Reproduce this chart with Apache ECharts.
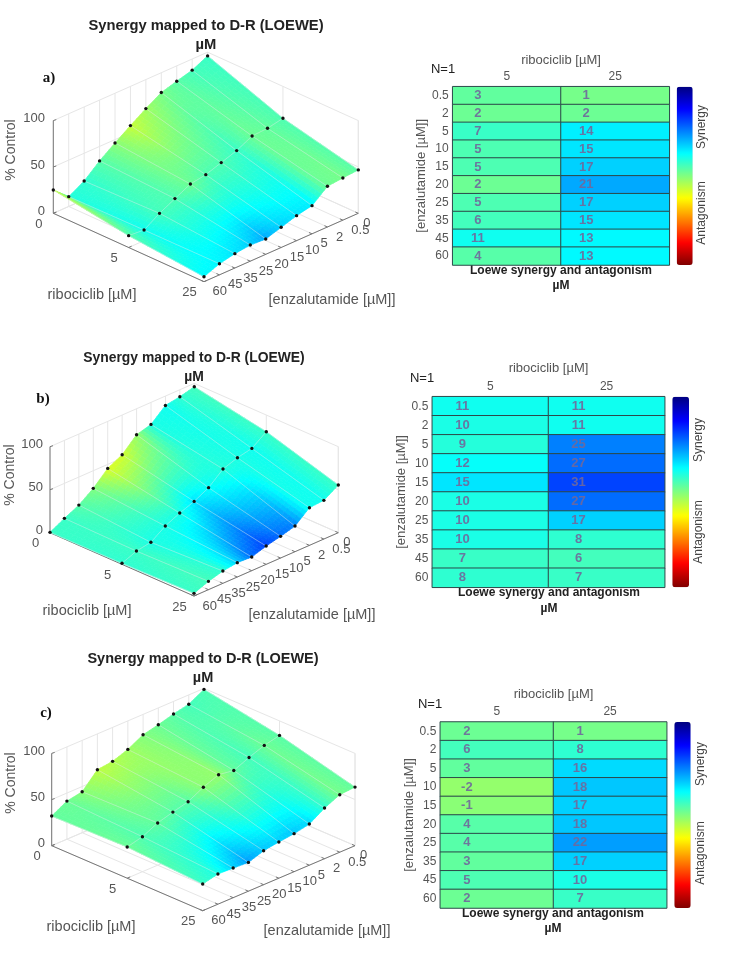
<!DOCTYPE html>
<html><head><meta charset="utf-8">
<style>html,body{margin:0;padding:0;background:#fff}#c{width:735px;height:959px}</style>
<script src="https://cdn.jsdelivr.net/npm/echarts@6/dist/echarts.min.js"></script>
</head><body><div id="c"></div>
<script>
// ---- categories and tick labels
const ribTicks = ['0','5','25'];
const enzTicks = ['0','0.5','2','5','10','15','20','25','35','45','60'];
const heatRib = ['5','25'];
const heatEnz = ['0.5','2','5','10','15','20','25','35','45','60'];
const zTicks = [0,50,100];
// ---- Loewe synergy tables
const heatA5 = [3,2,7,5,5,2,5,6,11,4];
const heatA25 = [1,2,14,15,17,21,17,15,13,13];
const heatB5 = [11,10,9,12,15,10,10,10,7,8];
const heatB25 = [11,11,25,27,31,27,17,8,6,7];
const heatC5 = [2,6,3,-2,-1,4,4,3,5,2];
const heatC25 = [1,8,16,18,17,18,22,17,10,7];
// ---- % control surfaces (one row per ribociclib dose, one value per enzalutamide dose)
const surfA0 = [96,88,83.5,78.6,68.7,57.7,46.4,34.4,20.1,10.6,25.2];
const surfA5 = [65.6,62.2,61.3,52.9,47.3,41.7,39,30.6,22.1,11.5,12.8];
const surfA25 = [46.8,45.5,43.9,30.4,27,21.8,16.5,17.4,15.5,12,5.4];
const surfB0 = [96.1,91.9,89.1,74.4,69.8,53.9,45.3,29.5,17.4,9.3,0.4];
const surfB5 = [80.6,68.6,65.1,59.3,45,36.4,30.2,22.5,10.9,8.1,1.2];
const surfB25 = [55.4,45,43.8,29.8,25.2,21.3,15.9,16.7,14.3,9.7,3.1];
const surfC0 = [98.9,89.9,86.3,81.8,78,69.1,63.2,61.2,44.4,41.3,32.1];
const surfC5 = [84.3,80.5,74.5,67.4,69.9,63.4,54.7,50.5,45.8,37.9,33.8];
const surfC25 = [63.5,62.3,54.9,44.6,41.2,39.2,36.8,31.2,32.1,32.7,28.9];
// ---- colour values on the single-agent edges of the surfaces
const edgeA = [7,6,4,1,-3,-7,-1,4,8,9,-8];
const edgeB = [6,8,11,10,-2,-8,-9,0,4,7,7];
const edgeC = [5,6,4,2,0,-3,-5,-6,-1,2,3];
const zeroEnzA = [5,4];
const zeroEnzB = [7,7];
const zeroEnzC = [4,3];

const jet = ['#800000','#ff0000','#ff8000','#ffff00','#80ff80','#00ffff','#0080ff','#0000ff','#000080'];
const colorRange = [-50,50];
const FONT = '"Liberation Sans", Arial, sans-serif';
const GREY = '#555';

const panels = [
 {tag:'a)', tagPos:[49,78], title:[206,26,45], tSize:14.75,
  L:[53.3,213.3], R:[358.3,213.3], F:[204,281.7], zu:0.927,
  z:[surfA0,surfA5,surfA25], h:[heatA5,heatA25], e:edgeA, ze:zeroEnzA,
  ribName:[92,295], enzName:[332,300], zName:[11,150], zRight:45,
  grid:[452.7,86.7,216.6,178.3], bar:[676.7,16], n:[443,69], labOff:-29, xGap:19.5,
  legendX:702, nameX:561, synY:127, antY:213},
 {tag:'b)', tagPos:[43,399], title:[194,358,377], tSize:13.9,
  L:[50,532.7], R:[338.3,532.7], F:[194,596], zu:0.86,
  z:[surfB0,surfB5,surfB25], h:[heatB5,heatB25], e:edgeB, ze:zeroEnzB,
  ribName:[87,611], enzName:[312,615], zName:[10,475], zRight:43,
  grid:[432.3,396.7,232.4,190.6], bar:[672.3,16.7], n:[422,378], labOff:-28, xGap:22,
  legendX:699, nameX:549, synY:440, antY:532},
 {tag:'c)', tagPos:[46,713], title:[203,659,678], tSize:14.5,
  L:[51.7,845.7], R:[355,845.7], F:[202.7,910.7], zu:0.923,
  z:[surfC0,surfC5,surfC25], h:[heatC5,heatC25], e:edgeC, ze:zeroEnzC,
  ribName:[91,927], enzName:[327,931], zName:[11,783], zRight:45,
  grid:[440.3,722,226.4,186], bar:[674.3,16.4], n:[430,704], labOff:-30, xGap:21.5,
  legendX:701, nameX:553, synY:764, antY:853}
];

function project(p,i,j,z){
  return [
    p.L[0]+(p.F[0]-p.L[0])*i/2+(p.R[0]-p.F[0])*(10-j)/10,
    p.L[1]+(p.F[1]-p.L[1])*i/2+(p.R[1]-p.F[1])*(10-j)/10-z*p.zu
  ];
}
function colorAt(s){ return echarts.color.lerp((s-colorRange[0])/(colorRange[1]-colorRange[0]),jet); }
function synergy(p,i,j){
  if(i===0) return p.e[j];
  if(j===0) return p.ze[i-1];
  return p.h[i-1][j-1];
}
const line=(a,b,stroke,w)=>({type:'line',shape:{x1:a[0],y1:a[1],x2:b[0],y2:b[1]},style:{stroke,lineWidth:w}});
const label=(x,y,text,o)=>({type:'text',x,y,style:Object.assign({text,x:0,y:0,fontFamily:FONT,fontSize:13,fill:GREY,textAlign:'center',textVerticalAlign:'middle'},o||{})});

function frameSeries(p){
  return {type:'custom',coordinateSystem:'cartesian2d',xAxisIndex:0,yAxisIndex:0,silent:true,animation:false,data:[[0,0]],clip:false,
   renderItem(params,api){
    const P=(i,j,z)=>api.coord(project(p,i,j,z));
    const c=[],wall='#e6e6e6',axis='#777';
    enzTicks.forEach((t,j)=>{
      c.push(line(P(0,j,0),P(0,j,100),wall,1));
      c.push(line(P(0,j,0),P(2,j,0),wall,1));
    });
    ribTicks.forEach((t,i)=>{
      c.push(line(P(i,0,0),P(i,0,100),wall,1));
      c.push(line(P(i,0,0),P(i,10,0),wall,1));
    });
    zTicks.forEach(z=>{
      c.push(line(P(0,10,z),P(0,0,z),wall,1));
      c.push(line(P(0,0,z),P(2,0,z),wall,1));
    });
    c.push(line(P(2,0,0),P(2,0,100),wall,1));
    c.push(line(P(0,10,0),P(0,10,100),axis,1));
    c.push(line(P(0,10,0),P(2,10,0),axis,1));
    c.push(line(P(2,10,0),P(2,0,0),axis,1));
    zTicks.forEach(z=>{
      const q=P(0,10,z);
      c.push(line(q,[q[0]+3,q[1]-1],axis,1));
      c.push(label(p.zRight,q[1]-2,String(z),{textAlign:'right'}));
    });
    ribTicks.forEach((t,i)=>{
      const q=P(i,10,0);
      c.push(line(q,[q[0]+3,q[1]-1.3],axis,1));
      c.push(label(q[0]-14.5,q[1]+11,t));
    });
    enzTicks.forEach((t,j)=>{
      const q=P(2,j,0);
      c.push(line(q,[q[0]-3,q[1]-1.3],axis,1));
      c.push(label(q[0]+(j===0?5:8.5),q[1]+10,t,{textAlign:'left'}));
    });
    return {type:'group',children:c};
   }};
}
function surfaceSeries(p){
  const cells=[];
  for(let j=0;j<10;j++) for(let i=0;i<2;i++) cells.push([i,j]);
  const nu=16,nv=5;
  return {type:'custom',coordinateSystem:'cartesian2d',xAxisIndex:0,yAxisIndex:0,silent:true,animation:false,data:cells,clip:false,
   renderItem(params,api){
    const i=api.value(0),j=api.value(1);
    const at=(u,v)=>{
      const bl=(a,b,c,d)=>(a*(1-u)+b*u)*(1-v)+(c*(1-u)+d*u)*v;
      const z=bl(p.z[i][j],p.z[i+1][j],p.z[i][j+1],p.z[i+1][j+1]);
      const s=bl(synergy(p,i,j),synergy(p,i+1,j),synergy(p,i,j+1),synergy(p,i+1,j+1));
      return {q:api.coord(project(p,i+u,j+v,z)),s};
    };
    const c=[];
    for(let a=0;a<nv;a++) for(let b=0;b<nu;b++){
      const n00=at(b/nu,a/nv),n10=at((b+1)/nu,a/nv),n01=at(b/nu,(a+1)/nv),n11=at((b+1)/nu,(a+1)/nv);
      const f=colorAt((n00.s+n10.s+n01.s+n11.s)/4);
      c.push({type:'polygon',shape:{points:[n00.q,n10.q,n11.q,n01.q]},style:{fill:f,stroke:f,lineWidth:0.7}});
    }
    return {type:'group',children:c};
   }};
}
function meshSeries(p){
  const nodes=[];
  for(let i=0;i<3;i++) for(let j=0;j<11;j++) nodes.push([i,j,p.z[i][j]]);
  return {type:'custom',coordinateSystem:'cartesian2d',xAxisIndex:0,yAxisIndex:0,silent:true,animation:false,data:nodes,clip:false,
   renderItem(params,api){
    const i=api.value(0),j=api.value(1),z=api.value(2);
    const q=api.coord(project(p,i,j,z));
    const c=[],m='rgba(225,232,232,0.55)';
    if(i<2) c.push(line(q,api.coord(project(p,i+1,j,p.z[i+1][j])),m,0.8));
    if(i===1&&j<10) c.push(line(q,api.coord(project(p,i,j+1,p.z[i][j+1])),m,0.8));
    return {type:'group',children:c};
   }};
}
function dotSeries(p){
  const nodes=[];
  for(let i=0;i<3;i++) for(let j=0;j<11;j++) nodes.push([i,j,p.z[i][j]]);
  return {type:'custom',coordinateSystem:'cartesian2d',xAxisIndex:0,yAxisIndex:0,silent:true,animation:false,data:nodes,clip:false,
   renderItem(params,api){
    const q=api.coord(project(p,api.value(0),api.value(1),api.value(2)));
    return {type:'circle',shape:{cx:q[0],cy:q[1],r:1.7},style:{fill:'#111'}};
   }};
}

const grids=[{left:0,top:0,width:735,height:959,show:false}];
const xAxes=[{type:'value',min:0,max:735,show:false,gridIndex:0}];
const yAxes=[{type:'value',min:0,max:959,inverse:true,show:false,gridIndex:0}];
const series=[],visualMaps=[],graphics=[];

panels.forEach((p,k)=>{
  const g=p.grid, idx=k+1;
  grids.push({left:g[0],top:g[1],width:g[2],height:g[3]});
  xAxes.push({type:'category',gridIndex:idx,data:heatRib,position:'top',
    axisLine:{show:false},axisTick:{show:false},splitLine:{show:false},
    axisLabel:{color:GREY,fontSize:12,fontFamily:FONT,margin:4},
    name:'ribociclib [µM]',nameLocation:'middle',nameGap:p.xGap,nameTextStyle:{color:GREY,fontSize:13,fontFamily:FONT}});
  yAxes.push({type:'category',gridIndex:idx,data:heatEnz,inverse:true,
    axisLine:{show:false},axisTick:{show:false},splitLine:{show:false},
    axisLabel:{color:GREY,fontSize:12,fontFamily:FONT,margin:4},
    name:'[enzalutamide [µM]]',nameLocation:'middle',nameGap:21.5,nameTextStyle:{color:GREY,fontSize:13,fontFamily:FONT}});
  const data=[];
  p.h.forEach((col,x)=>col.forEach((v,y)=>data.push([x,y,v])));
  series.push({type:'heatmap',xAxisIndex:idx,yAxisIndex:idx,data,animation:false,silent:true,
    itemStyle:{borderColor:'#2c4a4a',borderWidth:1},
    label:{show:true,offset:[p.labOff,0],color:'rgba(112,104,155,0.9)',fontSize:13,fontWeight:'bold',fontFamily:FONT,formatter:o=>String(o.value[2])}});
  visualMaps.push({type:'continuous',seriesIndex:k,min:colorRange[0],max:colorRange[1],inRange:{color:jet},
    left:p.bar[0],top:g[1],itemWidth:p.bar[1],itemHeight:g[3],padding:0,calculable:false,hoverLink:false,borderWidth:0});
  const t=(x,y,text,o)=>graphics.push({type:'text',x,y,silent:true,style:Object.assign({text,fontFamily:FONT,fontSize:13,fill:GREY,textAlign:'center',textVerticalAlign:'middle'},o||{})});
  const bold={fontWeight:'bold',fill:'#222'};
  t(p.title[0],p.title[1],'Synergy mapped to D-R (LOEWE)',Object.assign({fontSize:p.tSize},bold));
  t(p.title[0],p.title[2],'µM',Object.assign({fontSize:p.tSize},bold));
  t(p.tagPos[0],p.tagPos[1],p.tag,{fontFamily:'"Liberation Serif", serif',fontWeight:'bold',fontSize:15,fill:'#111'});
  t(p.ribName[0],p.ribName[1],'ribociclib [µM]',{fontSize:14.5});
  t(p.enzName[0],p.enzName[1],'[enzalutamide [µM]]',{fontSize:14.5});
  t(0,0,'% Control',{fontSize:14,rotation:0});
  const last=graphics[graphics.length-1];
  last.x=p.zName[0]; last.y=p.zName[1]; last.rotation=Math.PI/2;
  t(p.n[0],p.n[1],'N=1',{fontSize:13,fill:'#222'});
  t(p.nameX,g[1]+g[3]+5.5,'Loewe synergy and antagonism',Object.assign({fontSize:12},bold));
  t(p.nameX,g[1]+g[3]+21,'µM',Object.assign({fontSize:12},bold));
  [['Synergy',p.synY],['Antagonism',p.antY]].forEach(r=>{
    graphics.push({type:'text',x:p.legendX,y:r[1],rotation:Math.PI/2,silent:true,style:{text:r[0],fontFamily:FONT,fontSize:12,fill:'#444',textAlign:'center',textVerticalAlign:'middle'}});
  });
});
panels.forEach(p=>{
  series.push(frameSeries(p),surfaceSeries(p),meshSeries(p),dotSeries(p));
});

const chart=echarts.init(document.getElementById('c'),null,{renderer:'canvas'});
chart.setOption({animation:false,backgroundColor:'#fff',grid:grids,xAxis:xAxes,yAxis:yAxes,visualMap:visualMaps,series,graphic:graphics});
</script></body></html>
